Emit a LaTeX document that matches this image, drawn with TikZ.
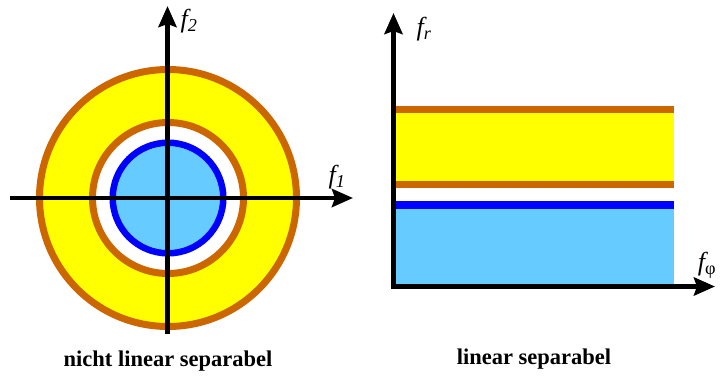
\documentclass[tikz,border=0pt]{standalone}
\usepackage{fontspec}
\setmainfont{Liberation Serif}
\usepackage{tikz}
\usetikzlibrary{arrows.meta}
\definecolor{ringorange}{RGB}{204,102,0}
\definecolor{ringyellow}{RGB}{255,255,0}
\definecolor{coreblue}{RGB}{0,0,255}
\definecolor{corelight}{RGB}{102,204,255}
\tikzset{
  axis/.style={line width=4.7pt, draw=black, -{Stealth[length=21pt,width=18pt,inset=3pt]}},
  axlbl/.style={font=\fontsize{26}{28}\selectfont\itshape, inner sep=0pt},
  caption/.style={font=\fontsize{22.5}{25}\selectfont\bfseries, inner sep=0pt},
  band/.style={fill=#1, draw=none},
}

\begin{document}
\begin{tikzpicture}[x=1pt,y=-1pt]
  \useasboundingbox (0,0) rectangle (722,376);
  % left: rings in feature space
  \coordinate (c) at (168,198);
  \fill[ringyellow] (c) circle (128.5);
  \draw[ringorange,line width=7pt] (c) circle (128.5);
  \draw[ringorange,line width=7pt,fill=white] (c) circle (75.5);
  \draw[coreblue,line width=6.5pt,fill=corelight] (c) circle (55.3);
  \coordinate (x1a) at (10,198);
  \coordinate (x1b) at (353,198);
  \coordinate (x2a) at (167.5,334);
  \coordinate (x2b) at (167.5,6);
  \draw[axis] (x1a) -- (x1b);
  \draw[axis] (x2a) -- (x2b);
  \node[axlbl] (f1) at (337,177) {f\textsubscript{1}};
  \node[axlbl] (f2) at (189,21) {f\textsubscript{2}};
  \node[caption] (capl) at (168,361) {nicht linear separabel};
  % right: same data in polar features
  \fill[band=ringorange] (393,106) rectangle (674,113);
  \fill[band=ringyellow] (393,113) rectangle (674,181);
  \fill[band=ringorange] (393,181) rectangle (674,188);
  \fill[band=coreblue] (393,201) rectangle (674,209);
  \fill[band=corelight] (393,209) rectangle (674,286);
  \coordinate (o) at (393.5,289);
  \coordinate (yr) at (393.5,13);
  \coordinate (xo) at (391,286.5);
  \coordinate (xp) at (715,286.5);
  \draw[axis] (o) -- (yr);
  \draw[axis] (xo) -- (xp);
  \node[axlbl] (fr) at (424,29) {f\textsubscript{r}};
  \node[axlbl] (fp) at (707,265) {f\textsubscript{\upshape φ}};
  \node[caption] (capr) at (534,359) {linear separabel};
\end{tikzpicture}
\end{document}
